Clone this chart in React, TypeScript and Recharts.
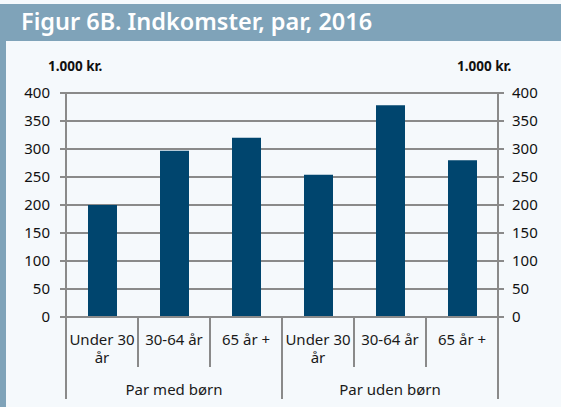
import { Bar, CartesianGrid, ComposedChart, Line, Text, XAxis, YAxis } from "recharts";

const AGES = ["Under 30 år", "30-64 år", "65 år +", "Under 30 år", "30-64 år", "65 år +"];
const GROUPS = ["Par med børn", "Par med børn", "Par med børn", "Par uden børn", "Par uden børn", "Par uden børn"];
const INCOME = [200, 297, 320, 254, 378, 280];
const Y_TICKS = [0, 50, 100, 150, 200, 250, 300, 350, 400];

const data = AGES.map((age, i) => ({ age, group: GROUPS[i], income: INCOME[i] }));

const FONT = "'Noto Sans', sans-serif";
const GRID = "#8a8a8a";
const HEAD = "#7fa3b9";
const AGE_H = 52;
const GROUP_H = 32;

function AgeTick(props: any) {
  const { x, y, payload } = props;
  const half = payload?.offset ?? 36;
  return (
    <g>
      <line x1={x - half} x2={x - half} y1={y} y2={y + AGE_H - 2} stroke={GRID} strokeWidth={2} />
      <Text
        x={x}
        y={y + 17}
        width={70}
        textAnchor="middle"
        verticalAnchor="start"
        lineHeight={18}
        fontSize={15}
        fontFamily={FONT}
        fill="#1a1a1a"
      >
        {payload.value}
      </Text>
    </g>
  );
}

function GroupTick(props: any) {
  const { x, y, payload, index, visibleTicksCount } = props;
  const half = payload?.offset ?? 108;
  const last = index === (visibleTicksCount ?? 2) - 1;
  return (
    <g>
      <line x1={x - half} x2={x - half} y1={y - AGE_H} y2={y + GROUP_H - 2} stroke={GRID} strokeWidth={2} />
      {last && <line x1={x + half} x2={x + half} y1={y - AGE_H} y2={y + GROUP_H - 2} stroke={GRID} strokeWidth={2} />}
      <text x={x} y={y + 26} textAnchor="middle" fontSize={15} fontFamily={FONT} fill="#1a1a1a">
        {payload.value}
      </text>
    </g>
  );
}

export default function App() {
  return (
    <div style={{ position: "absolute", left: 0, top: 0, width: 561, height: 407, background: "#f5f9fc", fontFamily: FONT }}>
      <div style={{ position: "absolute", left: 0, top: 4, width: 6, height: 403, background: HEAD }} />
      <div style={{ position: "absolute", left: 0, top: 4, width: 561, height: 37, background: HEAD }} />
      <div style={{ position: "absolute", left: 21, top: 9, fontSize: 23.5, lineHeight: "24px", fontWeight: 600, color: "#fff", whiteSpace: "nowrap" }}>
        Figur 6B. Indkomster, par, 2016
      </div>
      <div style={{ position: "absolute", left: 48, top: 60, fontSize: 13.5, lineHeight: "13px", fontWeight: 700, color: "#111" }}>1.000 kr.</div>
      <div style={{ position: "absolute", left: 457, top: 60, fontSize: 13.5, lineHeight: "13px", fontWeight: 700, color: "#111" }}>1.000 kr.</div>
      <div style={{ position: "absolute", left: 0, top: 0 }}>
        <ComposedChart width={561} height={407} data={data} margin={{ top: 93, right: 13, bottom: 6, left: 16 }}>
          <CartesianGrid xAxisId="age" yAxisId="left" vertical={false} stroke={GRID} strokeWidth={2} />
          <XAxis
            xAxisId="age"
            dataKey="age"
            height={AGE_H}
            interval={0}
            tickLine={false}
            tickSize={0}
            tickMargin={0}
            axisLine={{ stroke: GRID, strokeWidth: 2 }}
            tick={<AgeTick />}
          />
          <XAxis
            xAxisId="group"
            dataKey="group"
            allowDuplicatedCategory={false}
            height={GROUP_H}
            interval={0}
            tickLine={false}
            tickSize={0}
            tickMargin={0}
            axisLine={false}
            tick={<GroupTick />}
          />
          <YAxis
            yAxisId="left"
            width={50}
            domain={[0, 400]}
            ticks={Y_TICKS}
            tickSize={6}
            tickMargin={10}
            axisLine={{ stroke: GRID, strokeWidth: 2 }}
            tickLine={{ stroke: GRID, strokeWidth: 2 }}
            tick={{ fontSize: 15, fill: "#111", fontFamily: FONT }}
          />
          <YAxis
            yAxisId="right"
            orientation="right"
            width={50}
            domain={[0, 400]}
            allowDataOverflow
            ticks={Y_TICKS}
            tickSize={6}
            tickMargin={8}
            axisLine={{ stroke: GRID, strokeWidth: 2 }}
            tickLine={{ stroke: GRID, strokeWidth: 2 }}
            tick={{ fontSize: 15, fill: "#111", fontFamily: FONT, textAnchor: "start" }}
          />
          <Bar xAxisId="age" yAxisId="left" dataKey="income" fill="#00456e" barSize={29} isAnimationActive={false} />
          {/* invisible series so the right axis gets drawn */}
          <Line
            xAxisId="age"
            yAxisId="right"
            dataKey="income"
            stroke="none"
            dot={false}
            activeDot={false}
            legendType="none"
            isAnimationActive={false}
          />
        </ComposedChart>
      </div>
    </div>
  );
}
